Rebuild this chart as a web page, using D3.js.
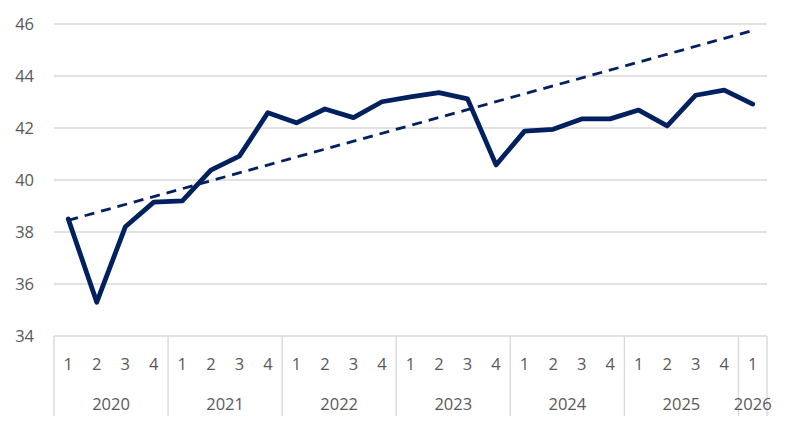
<!DOCTYPE html>
<html><head><meta charset="utf-8">
<script src="https://cdn.jsdelivr.net/npm/d3@7"></script>
<style>body{margin:0;background:#fff}svg{display:block;font-family:"Open Sans","Noto Sans",sans-serif}</style>
</head><body><svg id="c" width="791" height="429"></svg>
<script>
const years = ["2020","2020","2020","2020","2021","2021","2021","2021","2022","2022","2022","2022","2023","2023","2023","2023","2024","2024","2024","2024","2025","2025","2025","2025","2026"];
const quarters = ["1","2","3","4","1","2","3","4","1","2","3","4","1","2","3","4","1","2","3","4","1","2","3","4","1"];
const values = [38.5,35.3,38.2,39.15,39.2,40.38,40.92,42.59,42.2,42.73,42.4,43.01,43.2,43.36,43.12,40.58,41.88,41.95,42.35,42.35,42.69,42.08,43.26,43.46,42.92];
const trendIdx = [0,24];
const trendValues = [38.45,45.75];
const yTicks = [34,36,38,40,42,44,46];

const svg = d3.select("#c");
const L=54, R=767, T=24, B=336;
const keys = years.map((y,i)=>y+"-"+i);
const x = d3.scaleBand().domain(keys).range([L,R]).padding(0);
const y = d3.scaleLinear().domain([34,46]).range([B,T]);
const cx = i => x(keys[i]) + x.bandwidth()/2;
const grey="#d9d9d9", txt="#595959", navy="#002060";
const fs = "16.5px";

svg.append("g").selectAll("line").data(yTicks.filter(v=>v>34)).join("line")
  .attr("x1",L).attr("x2",R).attr("y1",d=>y(d)).attr("y2",d=>y(d))
  .attr("stroke",grey).attr("stroke-width",1.4);
svg.append("g").selectAll("text").data(yTicks).join("text")
  .attr("x",34).attr("y",d=>y(d)).attr("dy","0.35em").attr("text-anchor","end")
  .attr("fill",txt).style("font-size",fs).text(d=>d);
svg.append("line").attr("x1",L).attr("x2",R).attr("y1",B).attr("y2",B).attr("stroke",grey).attr("stroke-width",1.4);
const uniqYears = [...new Set(years)];
const bounds = [L];
uniqYears.forEach(yr=>{const last = years.lastIndexOf(yr); bounds.push(x(keys[last])+x.bandwidth());});
svg.append("g").selectAll("line").data(bounds).join("line")
  .attr("x1",d=>d).attr("x2",d=>d).attr("y1",B).attr("y2",416)
  .attr("stroke",grey).attr("stroke-width",1.4);
svg.append("g").selectAll("text").data(quarters).join("text")
  .attr("x",(d,i)=>cx(i)).attr("y",364).attr("dy","0.35em").attr("text-anchor","middle")
  .attr("fill",txt).style("font-size",fs).text(d=>d);
svg.append("g").selectAll("text").data(uniqYears).join("text")
  .attr("x",yr=>{const a=years.indexOf(yr), b=years.lastIndexOf(yr); return (cx(a)+cx(b))/2;})
  .attr("y",404).attr("dy","0.35em").attr("text-anchor","middle")
  .attr("fill",txt).style("font-size",fs).text(d=>d);
const line = d3.line().x(d=>cx(d[0])).y(d=>y(d[1]));
svg.append("path").datum(trendIdx.map((i,k)=>[i,trendValues[k]])).attr("d",line)
  .attr("fill","none").attr("stroke",navy).attr("stroke-width",2.8).attr("stroke-dasharray","10,7");
svg.append("path").datum(values.map((v,i)=>[i,v])).attr("d",line)
  .attr("fill","none").attr("stroke",navy).attr("stroke-width",4.8).attr("stroke-linejoin","round").attr("stroke-linecap","round");
</script></body></html>
